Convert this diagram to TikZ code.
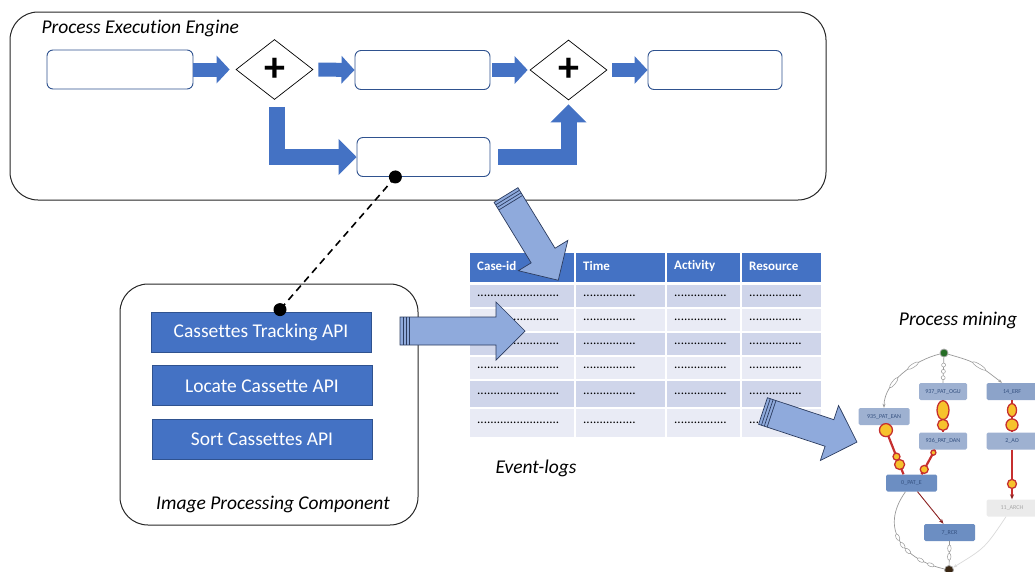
\documentclass[tikz,border=0pt]{standalone}
\usepackage{fontspec}
\setmainfont{Carlito}[Ligatures=NoCommon]
\usetikzlibrary{shapes.geometric,arrows.meta,positioning,calc}

\definecolor{flowblue}{HTML}{4472C4}
\definecolor{taskline}{HTML}{2F528F}
\definecolor{logblue}{HTML}{8FAADC}
\definecolor{logedge}{HTML}{2B3B5E}
\definecolor{rowdark}{HTML}{CFD5EA}
\definecolor{rowlight}{HTML}{E9EBF5}
\definecolor{pmlight}{HTML}{9EB1D1}
\definecolor{pmmid}{HTML}{8CA3C9}
\definecolor{pmdark}{HTML}{6C8EC2}
\definecolor{pmtext}{HTML}{34507F}
\definecolor{pmred}{HTML}{C62F2F}
\definecolor{pmyellow}{HTML}{F6C22C}

\begin{document}
\begin{tikzpicture}[x=1pt, y=-1pt,
    container/.style={draw=black!85, line width=1pt, rounded corners=28pt},
    task/.style={rectangle, draw=taskline, fill=white, line width=0.9pt, rounded corners=6pt, minimum height=39pt},
    gateway/.style={diamond, draw=black, fill=white, line width=0.7pt, minimum width=77pt, minimum height=60pt, inner sep=0pt, font=\bfseries\fontsize{42}{42}\selectfont},
    flow/.style={draw=flowblue, line width=14pt, -{Triangle[width=27pt,length=13pt]}},
    bigflow/.style={draw=flowblue, line width=16pt, -{Triangle[width=35pt,length=18pt]}},
    api/.style={rectangle, draw=taskline, fill=flowblue, line width=0.8pt, minimum width=220pt, minimum height=40pt, text=white, font=\fontsize{19.5}{22}\selectfont},
    caption/.style={font=\itshape\fontsize{19.5}{22}\selectfont},
    headtext/.style={anchor=west, text=white, inner sep=0pt, font=\bfseries\fontsize{13}{15}\selectfont},
    celltext/.style={anchor=west, inner sep=0pt, font=\fontsize{13}{15}\selectfont},
    logshape/.style={draw=logedge, fill=logblue, line width=0.7pt, line join=miter},
    pmbox/.style={rectangle, rounded corners=1.5pt, fill=pmlight, minimum width=51pt, minimum height=17pt, inner sep=0pt, text=pmtext, font=\fontsize{6}{7}\selectfont},
    freq/.style={draw=pmred, line width=2.2pt},
    blob/.style={circle, fill=pmyellow, draw=pmred, line width=1.3pt, inner sep=0pt},
    rare/.style={draw=black!40, line width=0.7pt},
    oval/.style={ellipse, draw=black!40, fill=white, line width=0.5pt, inner sep=0pt, minimum width=7pt, minimum height=3.5pt, sloped}
]
\useasboundingbox (0,0) rectangle (1035,571);

% Process execution engine
\node[container, minimum width=816pt, minimum height=188pt] (engine) at (418,106) {};
\node[caption, anchor=west] (enginelabel) at (38,28) {Process Execution Engine};

\node[task, minimum width=146pt] (task1) at (120,69.5) {};
\node[gateway] (split) at (274.5,69.5) {+};
\node[task, minimum width=135pt] (task2) at (422.5,70) {};
\node[gateway] (join) at (568.5,70) {+};
\node[task, minimum width=134pt] (task3) at (715,70) {};
\node[task, minimum width=133pt] (task4) at (423.5,157) {};

\draw[flow] (task1.east) -- ([xshift=-6pt]split.west);
\draw[flow] ([xshift=5pt]split.east) -- (task2.west);
\draw[flow] ([xshift=2pt]task2.east) -- ([xshift=-2pt]join.west);
\draw[flow] ([xshift=5pt]join.east) -- (task3.west);
\draw[bigflow] ($(split.south)+(2,7)$) |- (task4.west);
\draw[bigflow] ([xshift=8pt]task4.east) -| ($(join.south)+(0,4)$);

% Image processing component
\node[container, minimum width=298pt, minimum height=241pt] (imaging) at (269,404.5) {};
\node[api] (tracking) at (261,332) {Cassettes Tracking API};
\node[api, below=13pt of tracking.south, anchor=north, xshift=1pt] (locate) {Locate Cassette API};
\node[api, below=13pt of locate.south, anchor=north] (sorting) {Sort Cassettes API};
\node[caption] (imaginglabel) at (273,504) {Image Processing Component};

% Event log table
\foreach \xl/\xr/\head in {470/574/Case-id, 576/665/Time, 667/740/Activity, 742/821/Resource} {
  \fill[flowblue] (\xl,253) rectangle (\xr,282);
  \node[headtext] (head-\head) at ({\xl+7},266) {\head};
}
\foreach \yt/\yb/\shade [count=\r] in {285/307/rowdark, 309/331/rowlight, 333/355/rowdark, 357/379/rowlight, 381/407/rowdark, 409/437/rowlight} {
  \foreach \xl/\xr in {470/574, 576/665, 667/740, 742/821}
    \fill[\shade] (\xl,\yt) rectangle (\xr,\yb);
  \node[celltext] (cell-\r-1) at (477,{(\yt+\yb)/2}) {.........................};
  \foreach \xl [count=\c from 2] in {583,674,749}
    \node[celltext] (cell-\r-\c) at (\xl,{(\yt+\yb)/2}) {................};
}
\node[caption] (loglabel) at (536,468) {Event-logs};

% Hand-over arrows
\foreach \tx/\ty/\ang/\len in {506/195/-58.5/100, 400/331/0/125, 763/411/-18.3/99} {
  \begin{scope}[shift={(\tx,\ty)}, rotate=\ang]
    \draw[logshape] (0,-14) -- ({\len-29},-14) -- ({\len-29},-29) -- (\len,0) -- ({\len-29},29) -- ({\len-29},14) -- (0,14) -- cycle;
    \foreach \s in {3,6,9}
      \draw[logshape] (\s,-14) -- (\s,14);
  \end{scope}
}

% Link between task and API
\coordinate (taskdot) at ($(task4.south west)!0.29!(task4.south east)$);
\coordinate (apidot) at ($(tracking.north)+(19,-2)$);
\draw[dashed, line width=1.6pt, dash pattern=on 7pt off 5pt] (taskdot) -- (apidot);
\fill (taskdot) circle (6.5pt);
\fill (apidot) circle (6.5pt);

% Process mining model
\node[caption] (mininglabel) at (958,320) {Process mining};
\node[circle, fill=black!60!green!70!gray, draw=black!35, line width=0.8pt, minimum size=8pt, inner sep=0pt] (start) at (944,353) {};
\node[pmbox, minimum width=48pt] (ogu) at (943,391.5) {937\_PAT\_OGU};
\node[pmbox, fill=pmmid] (erf) at (1012,391.5) {14\_ERF};
\node[pmbox] (ean) at (884,416.5) {935\_PAT\_EAN};
\node[pmbox, minimum width=48pt] (dan) at (943,441) {936\_PAT\_DAN};
\node[pmbox] (ao) at (1012,441) {2\_AO};
\node[pmbox, fill=pmdark] (pate) at (911.5,483) {0\_PAT\_E};
\node[pmbox, fill=black!8, text=black!35] (arch) at (1012,508) {11\_ARCH};
\node[pmbox, fill=pmdark] (rcr) at (949.5,532.5) {7\_RCR};
\node[circle, fill=black!70!brown, draw=black!35, line width=0.8pt, minimum size=9pt, inner sep=0pt] (end) at (949,570) {};

\draw[rare, -{Stealth[length=4pt]}] (start) .. controls (915,360) and (884,382) .. (ean.north)
  node[oval, pos=0.35, minimum width=13pt] {} node[oval, pos=0.65, minimum width=13pt] {};
\draw[rare] (start) -- (ogu.north)
  node[oval, pos=0.3, minimum width=4pt, minimum height=4pt] {} node[oval, pos=0.55, minimum width=4pt, minimum height=4pt] {} node[oval, pos=0.8, minimum width=4pt, minimum height=4pt] {};
\draw[rare, -{Stealth[length=4pt]}] (start) .. controls (975,362) .. ([xshift=-10pt]erf.north)
  node[oval, pos=0.6, minimum width=15pt] {};
\draw[freq] (ean.south) -- ([xshift=-8pt]pate.north)
  node[blob, pos=0.1, minimum size=13pt] {} node[blob, pos=0.64, minimum size=7pt] {} node[blob, pos=0.8, minimum size=10pt] {};
\draw[freq] ([xshift=-8pt]dan.south) -- ([xshift=10pt]pate.north)
  node[blob, pos=0.12, minimum size=5pt] {} node[blob, pos=0.8, minimum size=8pt] {};
\draw[freq] (ogu.south) -- (dan.north)
  node[blob, ellipse, pos=0.31, minimum width=12pt, minimum height=19pt] {} node[blob, pos=0.77, minimum size=11pt] {};
\draw[freq] (erf.south) -- (ao.north)
  node[blob, ellipse, pos=0.31, minimum width=9pt, minimum height=13pt] {} node[blob, pos=0.77, minimum size=12pt] {};
\draw[freq, -{Stealth[length=5pt,width=4pt,color=pmred!70!black]}] (ao.south) -- (arch.north)
  node[blob, pos=0.69, minimum size=9pt] {};
\draw[draw=pmred!70!black, line width=0.9pt, -{Stealth[length=5pt]}] ([xshift=6pt]pate.south) -- ([xshift=-6pt]rcr.north);
\draw[rare] ([xshift=-6pt]pate.south) .. controls (878,530) and (905,560) .. (end)
  node[oval, pos=0.45] {} node[oval, pos=0.55] {} node[oval, pos=0.63] {} node[oval, pos=0.78] {} node[oval, pos=0.88] {};
\draw[rare] (rcr.south) -- (end)
  node[oval, pos=0.3, sloped] {} node[oval, pos=0.65, sloped] {};
\draw[draw=black!15, line width=0.7pt, -{Stealth[length=4pt]}] ([xshift=-6pt]arch.south) .. controls (985,548) .. (end);

\end{tikzpicture}
\end{document}
